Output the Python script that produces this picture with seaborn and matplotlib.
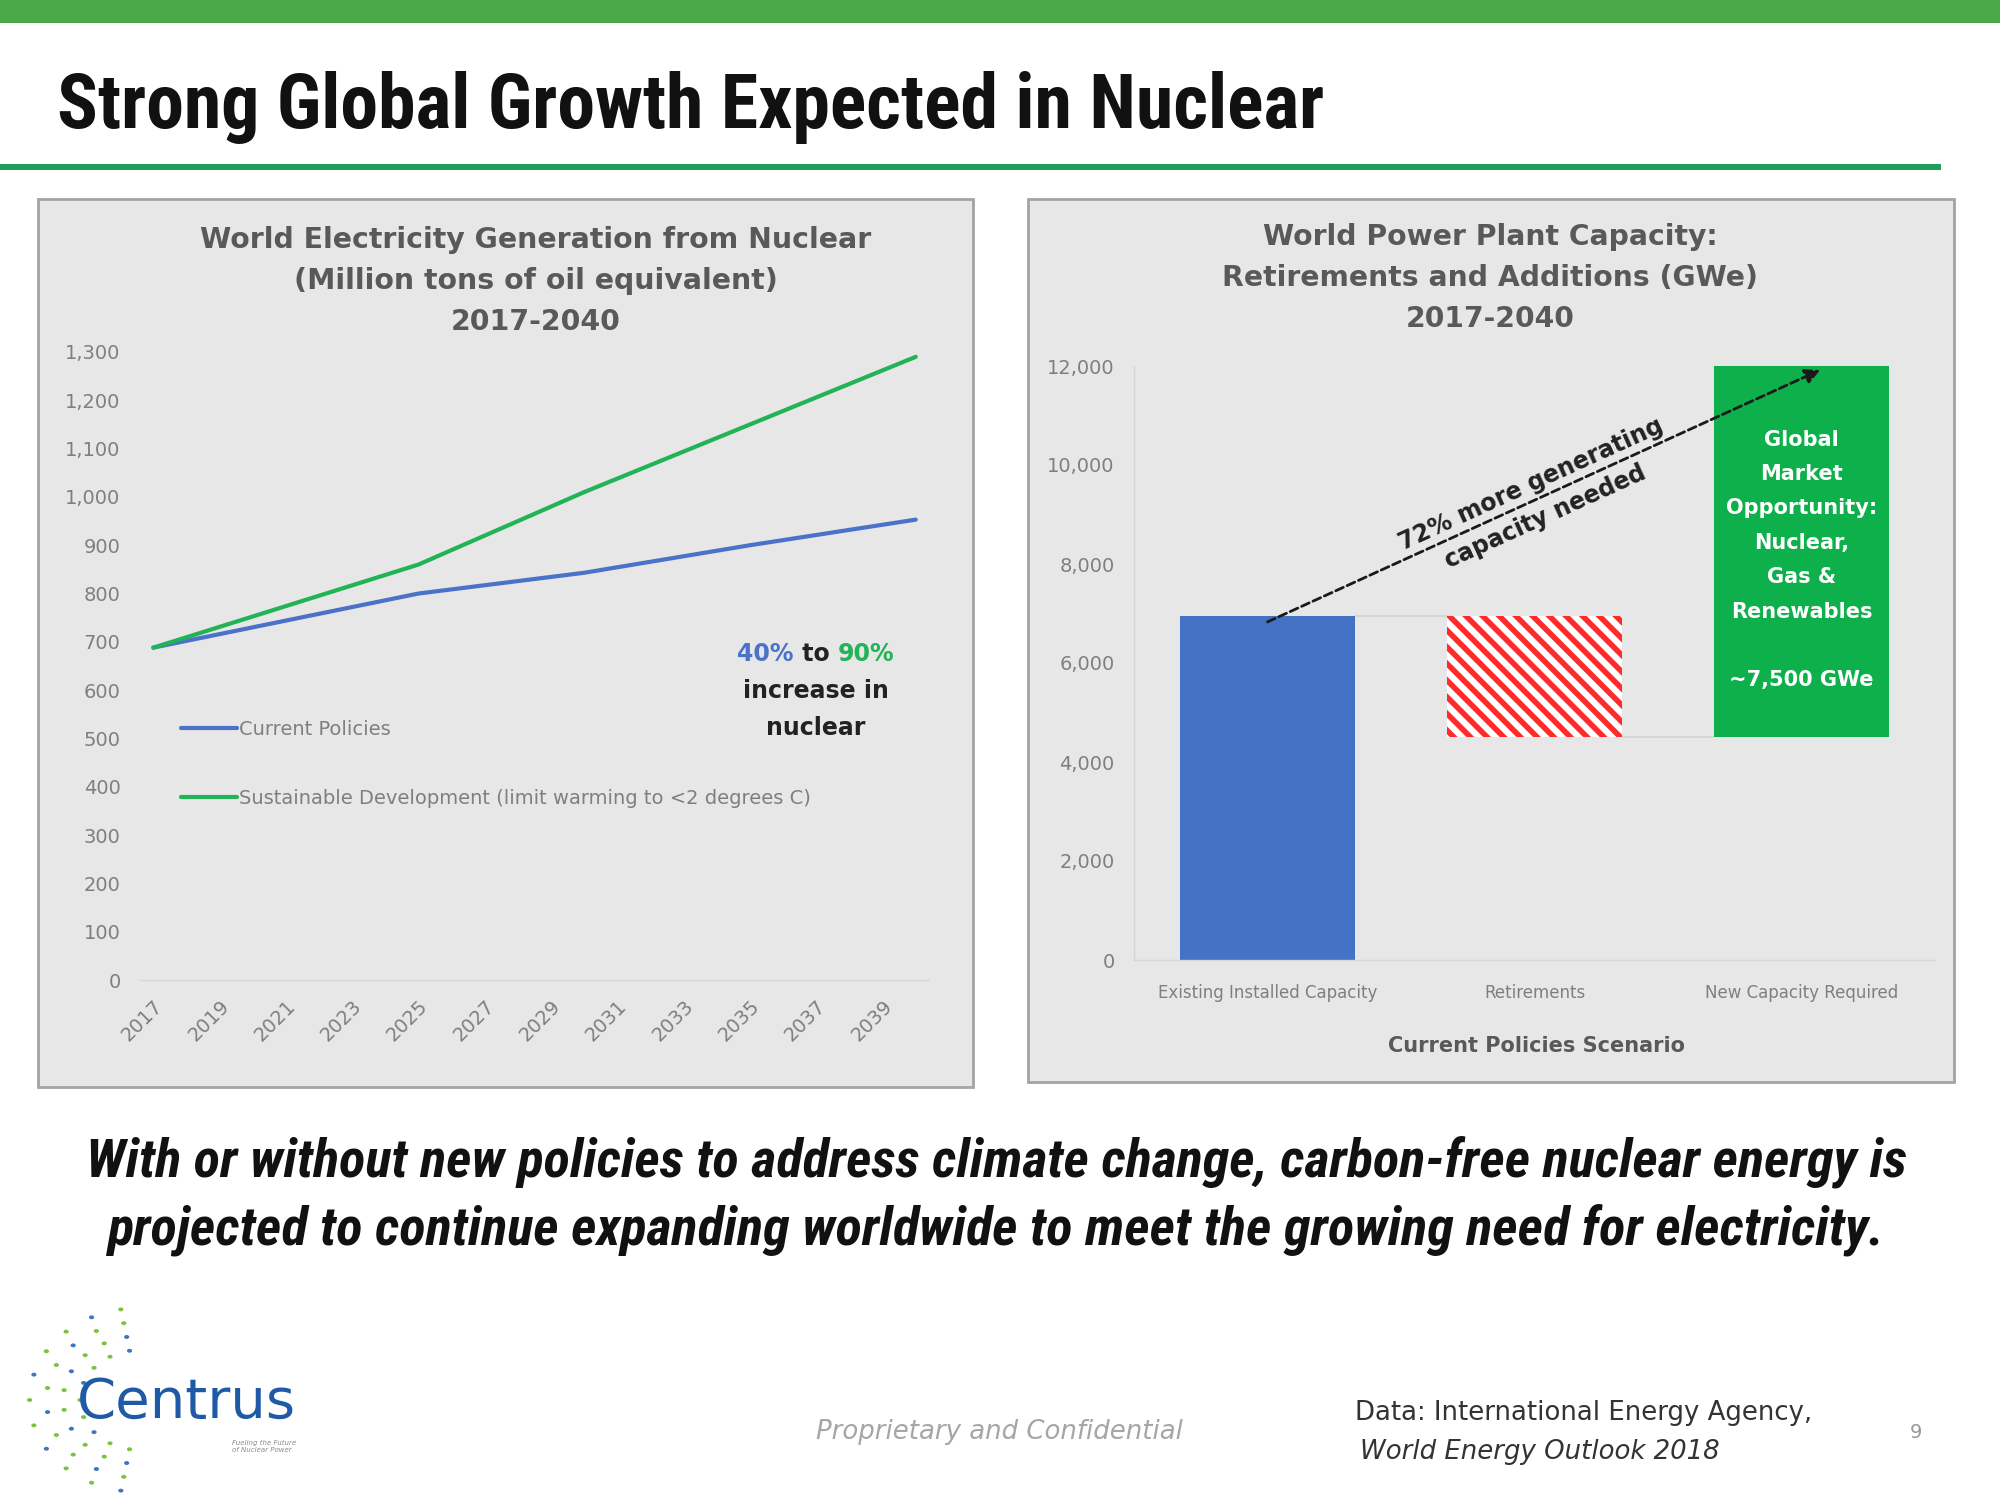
import numpy as np
import pandas as pd
import matplotlib
matplotlib.use("Agg")
import matplotlib.pyplot as plt
import seaborn as sns
from matplotlib import font_manager as fm
from matplotlib.patches import Rectangle, Circle

# ---------------- data ----------------
years = [2017, 2025, 2030, 2035, 2040]
current_policies = [688, 800, 843, 900, 953]
sustainable_dev = [688, 860, 1010, 1150, 1290]
series_names = ["Current Policies",
                "Sustainable Development (limit warming to <2 degrees C)"]
year_ticks = list(range(2017, 2040, 2))
gen_yticks = list(range(0, 1301, 100))

cap_categories = ["Existing Installed Capacity", "Retirements", "New Capacity Required"]
cap_changes = [6950, -2450, 7500]
cap_yticks = list(range(0, 12001, 2000))

# ---------------- style ----------------
sns.set_theme(style="white")
plt.rcParams['font.family'] = ['DejaVu Sans']
plt.rcParams['hatch.linewidth'] = 4.0


def pick(cands):
    for c in cands:
        try:
            fm.findfont(fm.FontProperties(family=c), fallback_to_default=False)
            return c
        except Exception:
            pass
    return 'DejaVu Sans'


NARROW = pick(['Liberation Sans Narrow', 'Roboto Condensed', 'Open Sans Condensed', 'Liberation Sans'])

W, H = 2000, 1500
fig = plt.figure(figsize=(20, 15), dpi=100)
fig.patch.set_facecolor('white')


def fx(px):
    return px / W


def fy(py):
    return 1 - py / H


renderer = fig.canvas.get_renderer()


def fit(t, target):
    for _ in range(3):
        w = t.get_window_extent(renderer).width
        t.set_fontsize(t.get_fontsize() * target / w)


# ---------------- slide decoration ----------------
fig.add_artist(Rectangle((0, fy(23)), 1, 23 / H, transform=fig.transFigure,
                         facecolor='#4aa847', edgecolor='none', zorder=0))
fig.add_artist(Rectangle((0, fy(170)), fx(1941), 6 / H, transform=fig.transFigure,
                         facecolor='#1f9e5b', edgecolor='none', zorder=0))

title = fig.text(fx(57), fy(128), "Strong Global Growth Expected in Nuclear",
                 family=[NARROW, 'DejaVu Sans'], fontweight='bold', fontsize=46,
                 va='baseline', ha='left', color='#111111')
fit(title, 1267)

for (x0, y0, x1, y1) in [(38, 199, 973, 1087), (1028, 199, 1954, 1082)]:
    fig.add_artist(Rectangle((fx(x0), fy(y1)), fx(x1 - x0), (y1 - y0) / H,
                             transform=fig.transFigure, facecolor='#e7e7e7',
                             edgecolor='#a3a3a3', lw=2, zorder=0))

GRAY = '#7f7f7f'
TGRAY = '#595959'

# ---------------- left chart ----------------
ax1 = fig.add_axes([fx(140), fy(980), fx(929 - 140), (980 - 352) / H])
ax1.set_facecolor('none')
df = pd.DataFrame({
    'Year': years * 2,
    'Value': current_policies + sustainable_dev,
    'Scenario': [series_names[0]] * len(years) + [series_names[1]] * len(years),
})
sns.lineplot(data=df, x='Year', y='Value', hue='Scenario',
             palette={series_names[0]: '#4a72c9', series_names[1]: '#21b356'},
             linewidth=3, errorbar=None, legend=False, ax=ax1)
ax1.set_xlim(2016.6, 2040.4)
ax1.set_ylim(0, 1300)
ax1.set_yticks(gen_yticks)
ax1.set_yticklabels([f"{v:,}" for v in gen_yticks], color=GRAY, fontsize=14)
ax1.set_xticks(year_ticks)
ax1.set_xticklabels([str(y) for y in year_ticks], rotation=45, ha='right',
                    rotation_mode='anchor', color=GRAY, fontsize=14)
ax1.set_xlabel('')
ax1.set_ylabel('')
ax1.tick_params(axis='both', length=0)
ax1.tick_params(axis='y', pad=14)
ax1.tick_params(axis='x', pad=12)
for s in ['top', 'right', 'left']:
    ax1.spines[s].set_visible(False)
ax1.spines['bottom'].set_color('#d6d6d6')
ax1.spines['bottom'].set_linewidth(1)

handles = ax1.get_lines()[:2]
ax1.legend(handles, series_names, loc='upper left',
           bbox_to_anchor=(fx(181), fy(720)), bbox_transform=fig.transFigure,
           frameon=False, fontsize=14, labelcolor=GRAY, handlelength=2.9,
           handletextpad=0.1, labelspacing=2.55, borderpad=0, borderaxespad=0)

t1 = fig.text(fx(536), fy(281),
              "World Electricity Generation from Nuclear\n(Million tons of oil equivalent)\n2017-2040",
              ha='center', va='center', fontweight='bold', color=TGRAY, fontsize=18,
              linespacing=1.4)
fit(t1, 670)
t1.set_linespacing(1.27 * 42 / (t1.get_fontsize() * 100 / 72 * 1.17))

# "40% to 90% increase in nuclear"
cx = fx(816)
tt = fig.text(cx, fy(654), " to ", ha='center', va='center', fontweight='bold',
              fontsize=17, color='#222222')
wto = tt.get_window_extent(renderer).width / W
fig.text(cx - wto / 2, fy(654), "40%", ha='right', va='center', fontweight='bold',
         fontsize=17, color='#4a72c9')
fig.text(cx + wto / 2, fy(654), "90%", ha='left', va='center', fontweight='bold',
         fontsize=17, color='#21b356')
fig.text(cx, fy(691), "increase in", ha='center', va='center', fontweight='bold',
         fontsize=17, color='#222222')
fig.text(cx, fy(728), "nuclear", ha='center', va='center', fontweight='bold',
         fontsize=17, color='#222222')

# ---------------- right chart ----------------
ax2 = fig.add_axes([fx(1134), fy(960), fx(1935 - 1134), (960 - 366) / H])
ax2.set_facecolor('none')
bottoms, heights = [], []
running = 0
for ch in cap_changes:
    if ch >= 0:
        bottoms.append(running)
        heights.append(ch)
    else:
        bottoms.append(running + ch)
        heights.append(-ch)
    running += ch
total = running
xpos = np.arange(len(cap_categories))
bw = 0.655
bars = ax2.bar(xpos, heights, bottom=bottoms, width=bw,
               color=['#4472c4', 'white', '#0db04b'], linewidth=0, zorder=2)
bars[1].set_edgecolor('#ff2a2a')
bars[1].set_hatch('\\\\')
bars[1].set_linewidth(0)

# connectors
ax2.plot([xpos[0] + bw / 2, xpos[1] - bw / 2], [cap_changes[0]] * 2, color='#d2d2d2', lw=1.2, zorder=1)
ax2.plot([xpos[1] + bw / 2, xpos[2] - bw / 2], [bottoms[2]] * 2, color='#d2d2d2', lw=1.2, zorder=1)

ax2.set_xlim(-0.5, 2.5)
ax2.set_ylim(0, 12000)
ax2.set_yticks(cap_yticks)
ax2.set_yticklabels([f"{v:,}" for v in cap_yticks], color=GRAY, fontsize=14)
ax2.set_xticks(xpos)
ax2.set_xticklabels(cap_categories, color=GRAY, fontsize=12)
ax2.tick_params(axis='both', length=0)
ax2.tick_params(axis='y', pad=14)
ax2.tick_params(axis='x', pad=17)
for s in ['top', 'right']:
    ax2.spines[s].set_visible(False)
for s in ['left', 'bottom']:
    ax2.spines[s].set_color('#d6d6d6')
    ax2.spines[s].set_linewidth(1)

# arrow
p0 = (xpos[0], cap_changes[0] - 120)
p1 = (xpos[2] + 0.07, total - 80)
ax2.annotate('', xy=p1, xytext=p0,
             arrowprops=dict(arrowstyle='-|>', linestyle=(0, (3, 1.5)), color='#1a1a1a',
                             lw=2, mutation_scale=22, shrinkA=0, shrinkB=0), zorder=5)
d0 = ax2.transData.transform(p0)
d1 = ax2.transData.transform(p1)
ang = np.degrees(np.arctan2(d1[1] - d0[1], d1[0] - d0[0]))
mid = ((p0[0] + p1[0]) / 2 - 0.02, (p0[1] + p1[1]) / 2 - 100)
ax2.text(mid[0], mid[1], "72% more generating\ncapacity needed", rotation=ang,
         rotation_mode='anchor', ha='center', va='center', multialignment='center',
         fontweight='bold', fontsize=17, color='#222222', linespacing=1.6, zorder=6)

ax2.text(xpos[2], 8080,
         f"Global\nMarket\nOpportunity:\nNuclear,\nGas &\nRenewables\n\n~{cap_changes[2]:,} GWe",
         ha='center', va='center', color='white', fontweight='bold', fontsize=15,
         linespacing=1.9, zorder=6)

t2 = fig.text(fx(1490), fy(278),
              "World Power Plant Capacity:\nRetirements and Additions (GWe)\n2017-2040",
              ha='center', va='center', fontweight='bold', color=TGRAY, fontsize=18,
              linespacing=1.4)
fit(t2, 536)
t2.set_linespacing(1.27 * 42 / (t2.get_fontsize() * 100 / 72 * 1.17))

fig.text(fx(1536), fy(1046), "Current Policies Scenario", ha='center', va='center',
         fontweight='bold', fontsize=15, color=TGRAY)

# ---------------- bottom text ----------------
b1 = fig.text(fx(996), fy(1176),
              "With or without new policies to address climate change, carbon-free nuclear energy is",
              ha='center', va='baseline', family=[NARROW, 'DejaVu Sans'], fontweight='bold',
              style='italic', fontsize=34, color='#111111')
fit(b1, 1819)
fig.text(fx(996), fy(1244),
         "projected to continue expanding worldwide to meet the growing need for electricity.",
         ha='center', va='baseline', family=[NARROW, 'DejaVu Sans'], fontweight='bold',
         style='italic', fontsize=b1.get_fontsize(), color='#111111')

# ---------------- footer ----------------
logo = fig.text(fx(77), fy(1403), "Centrus", ha='left', va='center', fontsize=34,
                color='#1f5aa6')
fit(logo, 219)
fig.text(fx(232), fy(1446), "Fueling the Future\nof Nuclear Power", ha='left', va='center',
         fontsize=5, color='#8a8a8a', style='italic')
# decorative logo dots
ccx, ccy = 140, 1400
k = 0
for r in [50, 64, 78, 92]:
    for a in np.linspace(100, 260, 8 + (r // 30)):
        px = ccx + 1.2 * r * np.cos(np.radians(a))
        py = ccy - r * np.sin(np.radians(a))
        col = '#7cc242' if k % 3 else '#3a78c0'
        fig.add_artist(Circle((fx(px), fy(py)), 2.6 / W, transform=fig.transFigure,
                              facecolor=col, edgecolor='none'))
        k += 1

prop = fig.text(fx(999), fy(1432), "Proprietary and Confidential", ha='center', va='center',
                fontsize=16, style='italic', color='#a6a6a6')
fit(prop, 367)
d1t = fig.text(fx(1355), fy(1413), "Data: International Energy Agency,", ha='left', va='center',
               fontsize=16, color='#333333')
fit(d1t, 459)
fig.text(fx(1360), fy(1452), "World Energy Outlook 2018", ha='left', va='center',
         fontsize=d1t.get_fontsize(), style='italic', color='#333333')
fig.text(fx(1916), fy(1432), "9", ha='center', va='center', fontsize=14, color='#999999')

fig.savefig('out.png', dpi=100, facecolor='white')
